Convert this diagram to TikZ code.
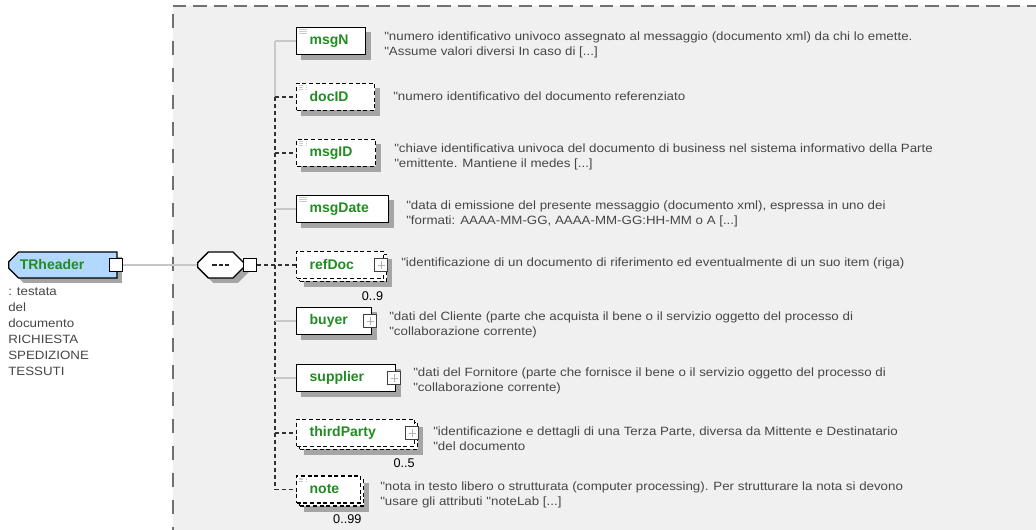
\documentclass[tikz,border=0pt]{standalone}
\usepackage{fontspec}
\setmainfont{Liberation Sans}
\newfontfamily\descfont[FakeStretch=1.11]{Liberation Sans}
\usetikzlibrary{shapes.misc}
\usetikzlibrary{backgrounds}

\definecolor{elemgreen}{RGB}{34,139,34}
\definecolor{descgray}{RGB}{70,70,70}
\definecolor{panelgray}{RGB}{240,240,240}
\definecolor{panelline}{RGB}{112,112,112}
\definecolor{linegray}{RGB}{200,200,200}
\definecolor{shadowgray}{RGB}{165,165,165}
\definecolor{headblue}{RGB}{178,216,255}

\tikzset{
  elem/.style={draw=black, line width=1pt, fill=white, anchor=west, minimum height=20.25pt,
    inner xsep=9.75pt, inner ysep=0pt, text width=(#1-26)*0.75pt, align=left,
    font=\bfseries\fontsize{10.5}{12}\selectfont, text=elemgreen},
  opt/.style={dash pattern=on 3pt off 2pt},
  simple/.style={path picture={
    \foreach \k in {1.6,2.9,4.2}
      \draw[black!20, line width=0.6pt] ([xshift=2pt,yshift=-\k pt]path picture bounding box.north west) -- ++(5.5pt,0);}},
  smallbox/.style={draw=black, line width=0.8pt, fill=white, minimum size=9.75pt, inner sep=0pt},
  kidsbox/.style={smallbox, draw=black!75, path picture={
    \draw[black!30, line width=0.6pt] ([xshift=-2.8pt]path picture bounding box.center) -- ([xshift=2.8pt]path picture bounding box.center);
    \draw[black!30, line width=0.6pt] ([yshift=-2.8pt]path picture bounding box.center) -- ([yshift=2.8pt]path picture bounding box.center);}},
  hdr/.style={chamfered rectangle, chamfered rectangle corners={north west,south west},
    chamfered rectangle xsep=4.5pt, draw=black, line width=1pt, fill=headblue, anchor=west,
    inner xsep=4.5pt, inner ysep=0pt, text width=64.5pt, align=left, minimum height=19.5pt,
    font=\bfseries\fontsize{10.5}{12}\selectfont, text=elemgreen},
  seqbox/.style={chamfered rectangle, chamfered rectangle xsep=4pt, chamfered rectangle ysep=4pt,
    draw=black, line width=1pt, fill=white, anchor=west, inner sep=0pt},
  seqdashes/.style={path picture={
    \foreach \d in {-6.3,-1.6,3.1}
      \draw[black!85, line width=1pt] ([xshift=\d pt]path picture bounding box.center) -- ++(3.2pt,0);}},
  desc/.style={anchor=west, align=left, inner sep=0pt, text=descgray,
    font=\descfont\fontsize{9}{11.4}\selectfont},
  occ/.style={anchor=north east, inner sep=0pt, font=\fontsize{9.5}{11}\selectfont},
  reqline/.style={draw=linegray, line width=0.8pt},
  optline/.style={draw=black!80, line width=0.9pt, dash pattern=on 3pt off 2.25pt}
}

\begin{document}
\begin{tikzpicture}[x=0.75pt,y=-0.75pt]
  \useasboundingbox (0,0) rectangle (1036,530);
  % content panel border
  \draw[panelline, line width=1pt, dash pattern=on 10pt off 5.25pt] (173,6) -- (1036,6);
  \draw[panelline, line width=1pt, dash pattern=on 10.5pt off 9.75pt] (173,14) -- (173,530);

  % root element
  \node[hdr] (TRheader) at (8,265) {TRheader};
  \node[smallbox] (TRsq) at ([xshift=-1.5pt]TRheader.east) {};
  \node[desc, anchor=north west, font=\descfont\fontsize{9}{12}\selectfont] (TRdesc) at (8,287)
    {: testata\\del\\documento\\RICHIESTA\\SPEDIZIONE\\TESSUTI};

  % sequence compositor
  \node[seqbox, seqdashes] (seq) at (197,265) {\hspace*{26.5pt}\rule{0pt}{11.5pt}};
  \node[smallbox] (seqsq) at ([xshift=4.5pt]seq.east) {};
  \coordinate (fork) at (275,265);

  % child elements
  \node[elem=69, simple] (msgN) at (296,41) {msgN};
  \node[elem=78, opt, simple] (docID) at (296,97) {docID};
  \node[elem=79, opt, simple] (msgID) at (296,153) {msgID};
  \node[elem=92, simple] (msgDate) at (296,209) {msgDate};

  \node[elem=87, opt] (refDocb) at (299,268) {};
  \node[elem=87, opt] (refDoc) at (296,265) {refDoc};
  \node[kidsbox] (refDocsq) at ([xshift=-2.25pt]refDoc.east) {};

  \node[elem=75] (buyer) at (296,321) {buyer};
  \node[kidsbox] (buyersq) at ([xshift=-1.5pt]buyer.east) {};
  \node[elem=99] (supplier) at (296,378) {supplier};
  \node[kidsbox] (suppliersq) at ([xshift=-1.5pt]supplier.east) {};

  \node[elem=118, opt] (thirdPartyb) at (299,436) {};
  \node[elem=118, opt] (thirdParty) at (296,433) {thirdParty};
  \node[kidsbox] (thirdPartysq) at ([xshift=-2.25pt]thirdParty.east) {};

  \node[elem=64, opt] (noteb) at (299,492.5) {};
  \node[elem=64, opt, simple] (note) at (296,489.5) {note};

  % occurrences
  \node[occ] (refDococc) at ([xshift=-3pt,yshift=-6.75pt]refDocb.south east) {0..9};
  \node[occ] (thirdPartyocc) at ([xshift=-2.5pt,yshift=-6.5pt]thirdPartyb.south east) {0..5};
  \node[occ] (noteocc) at ([xshift=-2pt,yshift=-6pt]noteb.south east) {0..99};

  % connectors
  \draw[reqline] (TRsq.east) -- (seq.west);
  \draw[optline] (seqsq.east) -- (refDoc.west);
  \draw[reqline] (fork |- msgN.west) -- (fork |- docID.west);
  \draw[optline] (fork |- docID.west) -- (fork |- note.west);
  \foreach \e in {msgN,msgDate,buyer,supplier}
    \draw[reqline] (fork |- \e.west) -- (\e.west);
  \foreach \e in {docID,msgID,thirdParty,note}
    \draw[optline] (fork |- \e.west) -- (\e.west);

  % annotations
  \node[desc] (msgNdesc) at (384,45) {"numero identificativo univoco assegnato al messaggio (documento xml) da chi lo emette.\\"Assume valori diversi In caso di [...]};
  \node[desc] (docIDdesc) at (393,96) {"numero identificativo del documento referenziato};
  \node[desc] (msgIDdesc) at (394,157) {"chiave identificativa univoca del documento di business nel sistema informativo della Parte\\"emittente. Mantiene il medes [...]};
  \node[desc] (msgDatedesc) at (406,214) {"data di emissione del presente messaggio (documento xml), espressa in uno dei\\"formati: AAAA-MM-GG, AAAA-MM-GG:HH-MM o A [...]};
  \node[desc] (refDocdesc) at (401,263) {"identificazione di un documento di riferimento ed eventualmente di un suo item (riga)};
  \node[desc] (buyerdesc) at (389,325) {"dati del Cliente (parte che acquista il bene o il servizio oggetto del processo di\\"collaborazione corrente)};
  \node[desc] (supplierdesc) at (413,381) {"dati del Fornitore (parte che fornisce il bene o il servizio oggetto del processo di\\"collaborazione corrente)};
  \node[desc] (thirdPartydesc) at (433,439) {"identificazione e dettagli di una Terza Parte, diversa da Mittente e Destinatario\\"del documento};
  \node[desc] (notedesc) at (380,495) {"nota in testo libero o strutturata (computer processing). Per strutturare la nota si devono\\"usare gli attributi "noteLab [...]};

  % page, panel and drop shadows
  \begin{pgfonlayer}{background}
    \fill[white] (0,0) rectangle (1036,530);
    \fill[panelgray] (173,6) rectangle (1036,530);
    \node[hdr, draw=none, fill=shadowgray] (TRshadow)
      at ([xshift=3.75pt,yshift=-3.75pt]TRheader.west) {\phantom{TRheader}};
    \node[seqbox, draw=none, fill=shadowgray] (seqshadow)
      at ([xshift=3.75pt,yshift=-3.75pt]seq.west) {\hspace*{26.5pt}\rule{0pt}{11.5pt}};
    \foreach \s in {msgN,docID,msgID,msgDate,refDocb,buyer,supplier,thirdPartyb,noteb}
      \fill[shadowgray] ([xshift=3.75pt,yshift=-3.75pt]\s.north west)
        rectangle ([xshift=3.75pt,yshift=-3.75pt]\s.south east);
  \end{pgfonlayer}
\end{tikzpicture}
\end{document}
